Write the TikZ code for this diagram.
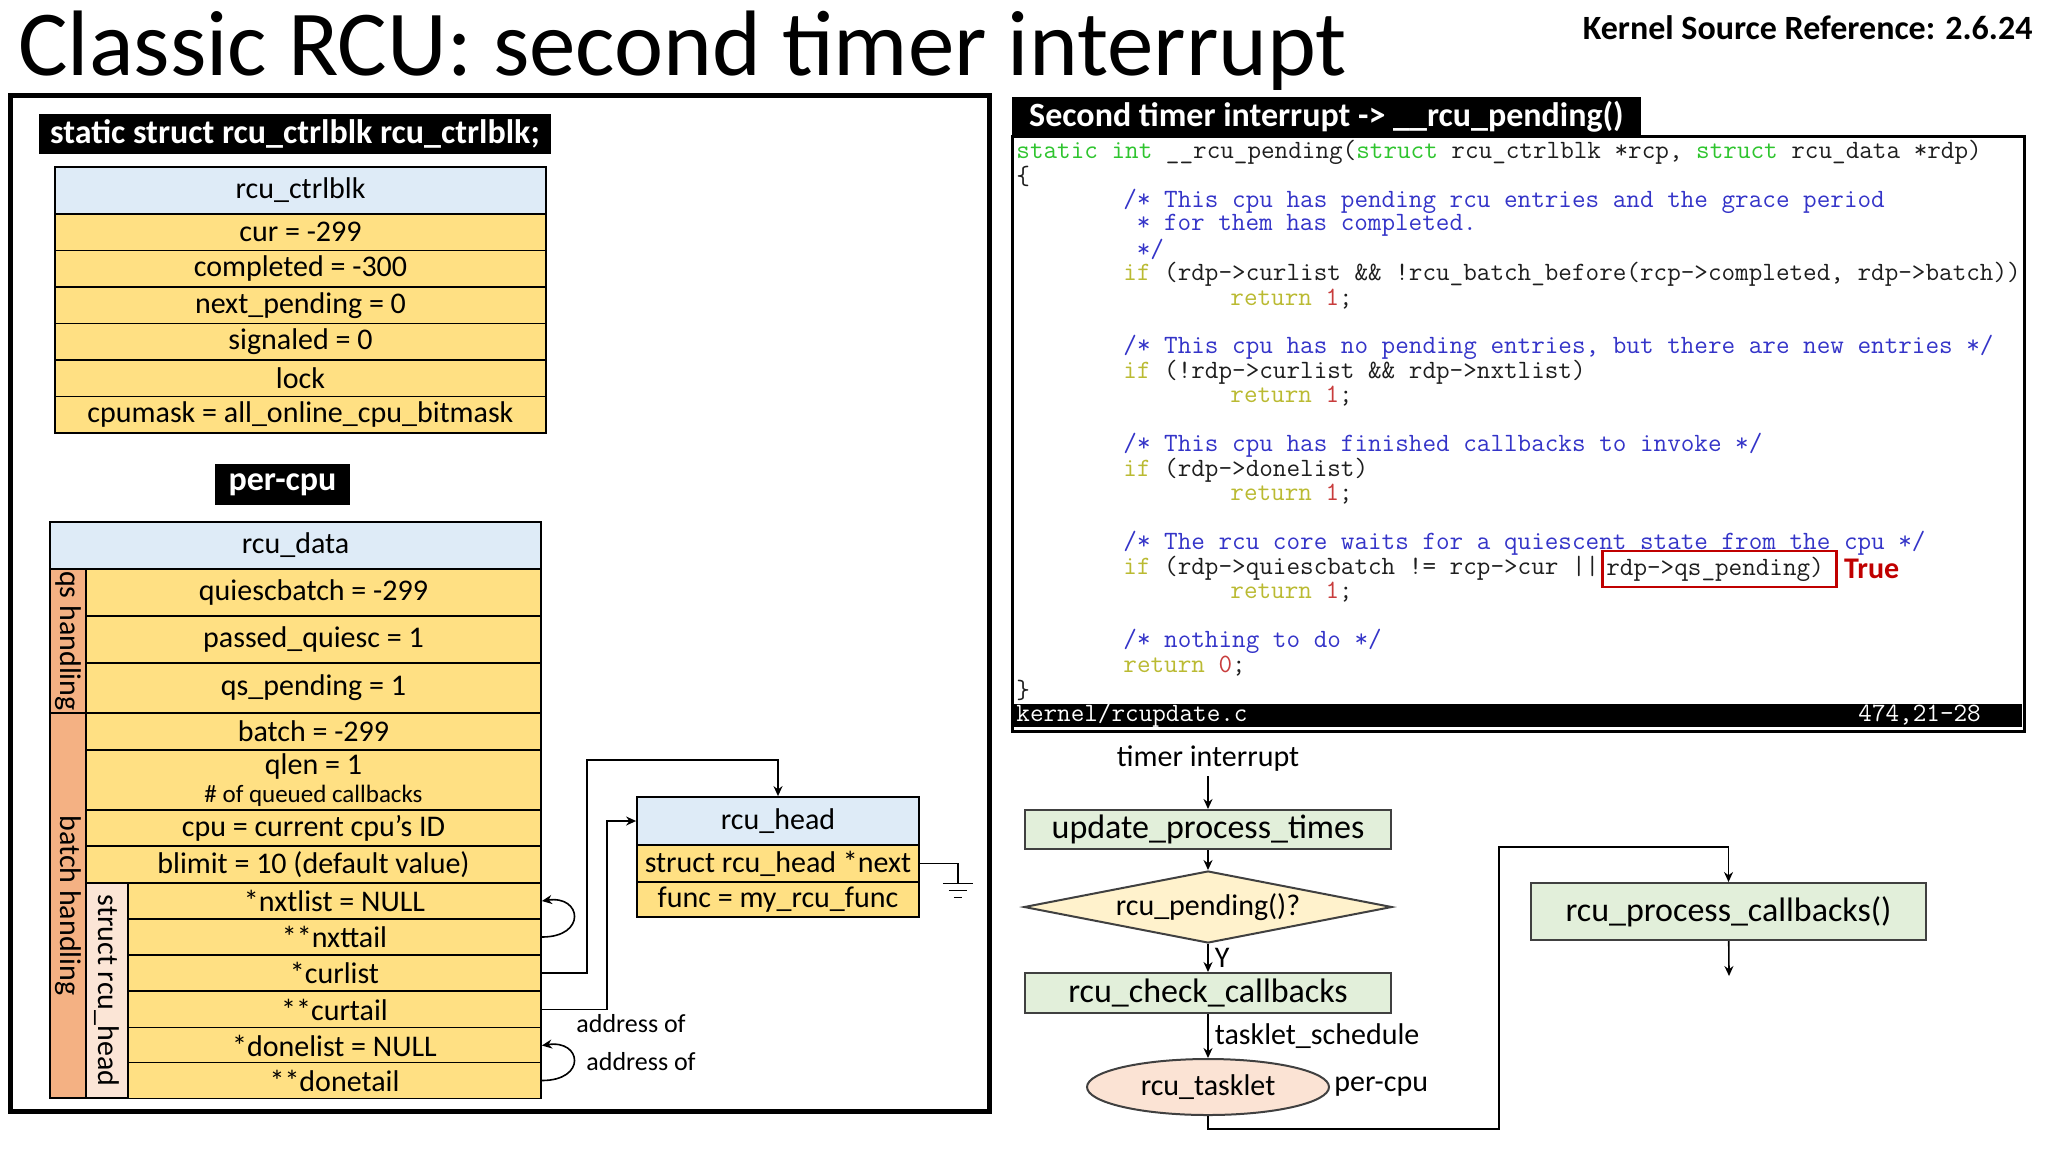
\documentclass[tikz,border=0pt]{standalone}
\usepackage{fontspec}
\setmainfont{Carlito}
\usepackage{xcolor}
\usepackage{tikz}
\usetikzlibrary{arrows.meta,positioning,shapes.geometric}
\definecolor{HeadBlue}{HTML}{DEEBF7}
\definecolor{FieldYel}{HTML}{FFE083}
\definecolor{SideOrange}{HTML}{F4B183}
\definecolor{SidePink}{HTML}{FBE5D6}
\definecolor{BoxGreen}{HTML}{E2EFDA}
\definecolor{DiaYel}{HTML}{FFF2CC}
\definecolor{EllPeach}{HTML}{FBE3D4}
\definecolor{FlowEdge}{HTML}{404040}
\definecolor{CodeInk}{HTML}{1E1E1E}
\definecolor{KwGreen}{HTML}{2EC42E}
\definecolor{CmtBlue}{HTML}{3434C8}
\definecolor{CtlOlive}{HTML}{BABA32}
\definecolor{LitRed}{HTML}{C83C3C}
\definecolor{MarkRed}{HTML}{C00000}
\newcommand{\fsz}[1]{\fontsize{#1}{#1}\selectfont}
\newcommand{\kwd}[1]{\textcolor{KwGreen}{#1}}
\newcommand{\cmt}[1]{\textcolor{CmtBlue}{#1}}
\newcommand{\ctl}[1]{\textcolor{CtlOlive}{#1}}
\newcommand{\lit}[1]{\textcolor{LitRed}{#1}}

\begin{document}
\begin{tikzpicture}[x=0.5pt, y=-0.5pt,
  every node/.style={font=\fsz{15}},
  fld/.style={draw, line width=0.9pt, fill=FieldYel, inner sep=0pt},
  hdr/.style={draw, line width=0.9pt, fill=HeadBlue, inner sep=0pt},
  sidebar/.style={draw, line width=0.9pt, inner sep=0pt, rotate=-90},
  blacktag/.style={fill=black, text=white, font=\fsz{17}\bfseries, inner sep=0pt},
  arr/.style={-{Stealth[length=5pt,width=4.5pt]}, line width=0.8pt},
  codeline/.style={anchor=west, inner sep=0pt, text=CodeInk, font=\ttfamily\fsz{13.2}},
  flowbox/.style={draw=FlowEdge, line width=1pt, fill=BoxGreen, inner sep=0pt, font=\fsz{17}}]
  \useasboundingbox (0,0) rectangle (2048,1152);
  % Title
  \node[anchor=base west, inner sep=0pt, font=\fsz{46.5}] (title) at (18,75) {Classic RCU: second timer interrupt};
  \node[anchor=base east, inner sep=0pt, font=\fsz{17}\bfseries] (kref) at (2033,39) {Kernel Source Reference: 2.6.24};

  % Left panel
  \draw[line width=2.5pt] (10,95) rectangle (989,1111);
  \node[blacktag, minimum width=256pt, minimum height=20pt] (ctltag) at (295,134) {static struct rcu\_ctrlblk rcu\_ctrlblk;};
  % rcu_ctrlblk fields
  \node[hdr, minimum width=245.5pt, minimum height=23.5pt] (cbhead) at (300.5,190.5) {rcu\_ctrlblk};
  \foreach \i/\txt in {1/{cur = -299}, 2/{completed = -300}, 3/{next\_pending = 0},
                      4/{signaled = 0}, 5/{lock}, 6/{cpumask = all\_online\_cpu\_bitmask}}{
    \node[fld, minimum width=245.5pt, minimum height=18.25pt] (cb\i) at (300.5,195.75+36.5*\i) {\txt};
  }
  \node[blacktag, minimum width=67.5pt, minimum height=20.5pt] (pctag) at (282.5,484.5) {per-cpu};

  % rcu_data fields
  \node[hdr, minimum width=245.5pt, minimum height=23.5pt] (rdhead) at (295.5,545.5) {rcu\_data};
  \foreach \nm/\yc/\rh/\txt in {qb/592.5/23.5/{quiescbatch = -299}, pq/639.5/23.5/{passed\_quiesc = 1},
                               qp/688/25/{qs\_pending = 1}, bt/731.5/18.5/{batch = -299},
                               cp/828/18/{cpu = current cpu’s ID}, bl/864.5/18.5/{blimit = 10 (default value)}}{
    \node[fld, minimum width=227.5pt, minimum height=\rh pt] (\nm) at (313.5,\yc) {\txt};
  }
  \node[fld, minimum width=227.5pt, minimum height=30pt, align=center, font=\fontsize{15}{14}\selectfont] (ql) at (313.5,780)
    {qlen = 1\\{\fsz{12.5}\# of queued callbacks}};
  % struct rcu_head part
  \foreach \nm/\yc/\txt in {nxl/901/{*nxtlist = NULL}, nxt/937/{**nxttail}, crl/973/{*curlist},
                           crt/1009.5/{**curtail}, dnl/1045.5/{*donelist = NULL}, dnt/1080.5/{**donetail}}{
    \node[fld, minimum width=206.5pt, minimum height=18pt] (\nm) at (334.5,\yc) {\txt};
  }
  % Side bars
  \node[sidebar, fill=SideOrange, minimum width=72pt, minimum height=18pt] (qsside) at (68,641) {qs handling};
  \node[sidebar, fill=SideOrange, minimum width=192.5pt, minimum height=18pt] (btside) at (68,905.5) {batch handling};
  \node[sidebar, fill=SidePink, minimum width=107.5pt, minimum height=21pt] (rhside) at (107,990.5) {struct rcu\_head};

  % rcu_head
  \node[hdr, minimum width=141pt, minimum height=24pt] (rhhead) at (778,821) {rcu\_head};
  \node[fld, minimum width=141pt, minimum height=18.5pt] (rhnext) at (778,863.5) {struct rcu\_head *next};
  \node[fld, minimum width=141pt, minimum height=17.5pt] (rhfunc) at (778,899.5) {func = my\_rcu\_func};
  % ground on next
  \draw[line width=0.8pt] (rhnext.east) -- ++(38,0) -- ++(0,20) coordinate (gnd);
  \draw[line width=0.8pt] (gnd) ++(-15,0) -- ++(30,0) (gnd) ++(-9,7) -- ++(18,0) (gnd) ++(-4,14) -- ++(8,0);

  % Pointers
  \draw[arr] (nxt.east) .. controls +(45,0) and +(40,-6) .. (nxl.east);
  \draw[arr] (crl.east) -- ++(45,0) -- ++(0,-213) -| (rhhead.north);
  \draw[arr] (crt.east) -- ++(65,0) |- (rhhead.west);
  \draw[arr] (dnt.east) .. controls +(45,0) and +(40,-6) .. (dnl.east);
  \node[anchor=west, inner sep=0pt, font=\fsz{13}] (addr1) at (576,1024) {address of};
  \node[anchor=west, inner sep=0pt, font=\fsz{13}] (addr2) at (586,1062) {address of};

  % Right panel: code of __rcu_pending()
  \node[blacktag, minimum width=314.5pt, minimum height=19.5pt] (pendtag) at (1326.5,116.5) {Second timer interrupt -> \_\_rcu\_pending()};
  \draw[line width=1.5pt] (1012,136) rectangle (2024,731);
  \node[codeline] (c0) at (1016,152) {\kwd{static} \kwd{int} \_\_rcu\_pending(\kwd{struct} rcu\_ctrlblk *rcp, \kwd{struct} rcu\_data *rdp)};
  \node[codeline] (c1) at (1016,176.5) {\{};
  \node[codeline] (c2) at (1123,200.9) {\cmt{/* This cpu has pending rcu entries and the grace period}};
  \node[codeline] (c3) at (1136.4,225.4) {\cmt{* for them has completed.}};
  \node[codeline] (c4) at (1136.4,249.8) {\cmt{*/}};
  \node[codeline] (c5) at (1123,274.3) {\ctl{if} (rdp->curlist \&\& !rcu\_batch\_before(rcp->completed, rdp->batch))};
  \node[codeline] (c6) at (1230,298.8) {\ctl{return} \lit{1};};
  \node[codeline] (c8) at (1123,347.7) {\cmt{/* This cpu has no pending entries, but there are new entries */}};
  \node[codeline] (c9) at (1123,372.1) {\ctl{if} (!rdp->curlist \&\& rdp->nxtlist)};
  \node[codeline] (c10) at (1230,396.6) {\ctl{return} \lit{1};};
  \node[codeline] (c12) at (1123,445.5) {\cmt{/* This cpu has finished callbacks to invoke */}};
  \node[codeline] (c13) at (1123,470) {\ctl{if} (rdp->donelist)};
  \node[codeline] (c14) at (1230,494.4) {\ctl{return} \lit{1};};
  \node[codeline] (c16) at (1123,543.4) {\cmt{/* The rcu core waits for a quiescent state from the cpu */}};
  \node[codeline] (c17) at (1123,567.8) {\ctl{if} (rdp->quiescbatch != rcp->cur ||};
  \node[codeline, draw=MarkRed, line width=1.3pt, inner xsep=2pt, inner ysep=3pt, text width=113pt, align=left] (qsmark) at (1601,569) {rdp->qs\_pending)};
  \node[right=3pt of qsmark, inner sep=0pt, text=MarkRed, font=\fsz{15}\bfseries] (truelbl) {True};
  \node[codeline] (c18) at (1230,592.3) {\ctl{return} \lit{1};};
  \node[codeline] (c20) at (1123,641.2) {\cmt{/* nothing to do */}};
  \node[codeline] (c21) at (1123,665.7) {\ctl{return} \lit{0};};
  \node[codeline] (c22) at (1016,690.1) {\}};
  % status line
  \fill (1014,704) rectangle (2022,727);
  \node[codeline, text=white] (fname) at (1016,715) {kernel/rcupdate.c};
  \node[codeline, text=white] (fpos) at (1858,715) {474,21-28};

  % Flow of the timer interrupt
  \node[inner sep=2pt] (tint) at (1208,759) {timer interrupt};
  \node[flowbox, minimum width=183pt, minimum height=19.5pt] (upd) at (1208,829.5) {update\_process\_times};
  \node[diamond, aspect=5, draw=FlowEdge, line width=1pt, fill=DiaYel, inner sep=0pt,
        minimum width=184pt, minimum height=36pt] (pend) at (1208,907) {rcu\_pending()?};
  \node[flowbox, minimum width=183pt, minimum height=20pt] (chk) at (1208,993) {rcu\_check\_callbacks};
  \node[ellipse, draw=FlowEdge, line width=1pt, fill=EllPeach, inner sep=0pt,
        minimum width=121pt, minimum height=28pt] (tsk) at (1208,1087) {rcu\_tasklet};
  \node[anchor=west, inner sep=2pt] (percpu) at (tsk.east) {per-cpu};
  \node[flowbox, minimum width=197.5pt, minimum height=28.5pt] (proc) at (1728.5,911.5) {rcu\_process\_callbacks()};
  \coordinate (procout) at (1729,976);
  \draw[arr] (tint) -- (upd);
  \draw[arr] (upd) -- (pend);
  \draw[arr] (pend) -- node[right, inner sep=3pt] {Y} (chk);
  \draw[arr] (chk) -- node[right, inner sep=3pt] {tasklet\_schedule} (tsk);
  \draw[arr] (tsk.south) -- ++(0,13) -- ++(291,0) -- ++(0,-282) -| (proc.north);
  \draw[arr] (proc) -- (procout);
\end{tikzpicture}
\end{document}
